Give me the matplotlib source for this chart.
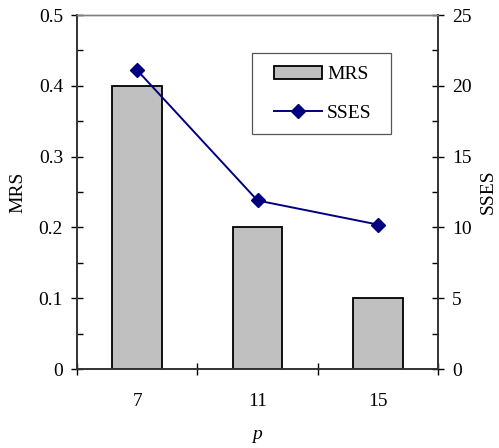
import matplotlib.pyplot as plt
from matplotlib.patches import Rectangle
from matplotlib.ticker import MultipleLocator, FixedLocator, NullFormatter

p_degerleri = ["7", "11", "15"]
mrs = [0.4, 0.2, 0.1]
sses = [21.1, 11.9, 10.2]

plt.rcParams["font.family"] = ["Liberation Serif", "DejaVu Serif"]
plt.rcParams["font.size"] = 14

W, H = 499, 448
fig = plt.figure(figsize=(W / 100, H / 100), dpi=100)
ax = fig.add_axes([77 / W, 1 - 369 / H, 361 / W, 354 / H])
ax2 = ax.twinx()

xs = range(len(p_degerleri))
cubuklar = ax.bar(xs, mrs, width=0.41, color="#C0C0C0", edgecolor="black",
                  linewidth=1.3, label="MRS", zorder=2)
cizgi, = ax2.plot(xs, sses, color="#000080", linewidth=1.4, marker="D",
                  markersize=7, label="SSES", zorder=3)

ax.set_xlim(-0.5, 2.5)
ax.set_ylim(0, 0.5)
ax2.set_ylim(0, 25)

# x ekseni: kategori sınırlarında çentik, ortada etiket
ax.xaxis.set_major_locator(FixedLocator([-0.5, 0.5, 1.5, 2.5]))
ax.xaxis.set_major_formatter(NullFormatter())
ax.xaxis.set_minor_locator(FixedLocator(list(xs)))
ax.set_xticklabels(p_degerleri, minor=True)
ax.tick_params(axis="x", which="major", direction="inout", length=9, width=1)
ax.tick_params(axis="x", which="minor", length=0, pad=17)

ax.set_yticks([0, 0.1, 0.2, 0.3, 0.4, 0.5])
ax.set_yticklabels(["0", "0.1", "0.2", "0.3", "0.4", "0.5"])
ax.yaxis.set_minor_locator(MultipleLocator(0.05))
ax.tick_params(axis="y", which="major", direction="inout", length=8, width=1, pad=6)
ax.tick_params(axis="y", which="minor", direction="in", length=4, width=1)

ax2.yaxis.set_major_locator(MultipleLocator(5))
ax2.yaxis.set_minor_locator(MultipleLocator(2.5))
ax2.tick_params(axis="y", which="major", direction="inout", length=8, width=1, pad=6)
ax2.tick_params(axis="y", which="minor", direction="in", length=4, width=1)

for a in (ax, ax2):
    a.spines["top"].set_color("#808080")
    a.spines["top"].set_linewidth(1)
    for s in ("left", "right", "bottom"):
        a.spines[s].set_color("#333333")
        a.spines[s].set_linewidth(1.2)

ax.set_ylabel("MRS", labelpad=9)
ax2.set_ylabel("SSES", labelpad=6)
ax.set_xlabel("p", style="italic", labelpad=12)

# lejant: çerçeveyi ayrı çiz, yanlarda daha geniş boşluk kalsın
leg = fig.legend([cubuklar, cizgi], ["MRS", "SSES"], loc="upper left",
                 bbox_to_anchor=(260 / W, 1 - 52 / H), frameon=False,
                 handlelength=2.5, handletextpad=0.25, labelspacing=1.1,
                 borderpad=0.7, borderaxespad=0, fontsize=14)
fig.patches.append(Rectangle((252 / W, 1 - 134 / H), 139 / W, 81 / H,
                             transform=fig.transFigure, facecolor="white",
                             edgecolor="#555555", linewidth=0.9, zorder=4))
leg.set_zorder(5)

plt.savefig("out.png", dpi=100)
